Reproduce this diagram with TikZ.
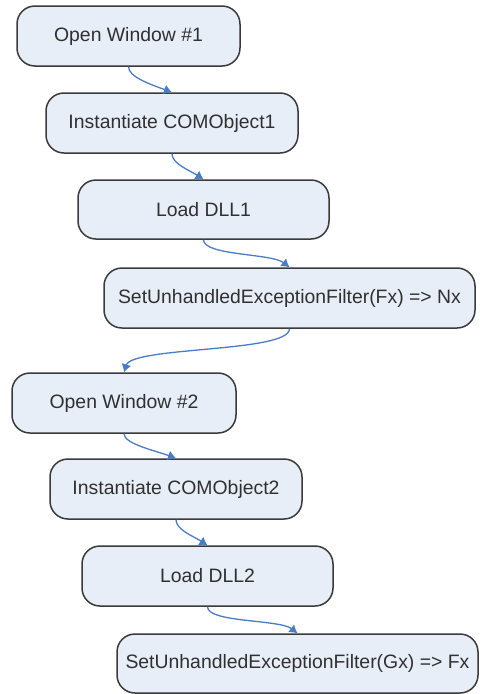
\documentclass[tikz,border=0pt]{standalone}
\usepackage{fontspec}
\setmainfont{Liberation Sans}
\usetikzlibrary{arrows.meta}
\definecolor{boxfill}{HTML}{E8EEF8}
\definecolor{boxline}{HTML}{3A3A3A}
\definecolor{txt}{HTML}{303030}
\definecolor{arr}{HTML}{4A7CC4}
\begin{document}
\begin{tikzpicture}[x=1pt,y=-1pt,
  flowbox/.style={draw=boxline, line width=1.5pt, fill=boxfill, rounded corners=18pt,
    minimum height=60pt, inner sep=0pt, text=txt,
    font=\fontsize{19.4}{23}\selectfont},
  flowarrow/.style={draw=arr, line width=1.3pt, -{Latex[length=8pt,width=10pt]}}]
\useasboundingbox (0,0) rectangle (480,694);
\node[flowbox, minimum width=223pt] (b1) at (128.5,36) {Open Window \#1};
\node[flowbox, minimum width=252pt] (b2) at (172,123) {Instantiate COMObject1};
\node[flowbox, minimum width=251pt, minimum height=59pt] (b3) at (203.5,209.5) {Load DLL1};
\node[flowbox, minimum width=371pt] (b4) at (289.5,298) {SetUnhandledExceptionFilter(Fx) => Nx};
\node[flowbox, minimum width=224pt] (b5) at (124,403) {Open Window \#2};
\node[flowbox, minimum width=252pt] (b6) at (176,489) {Instantiate COMObject2};
\node[flowbox, minimum width=251pt] (b7) at (207.5,576) {Load DLL2};
\node[flowbox, minimum width=361pt, minimum height=59pt] (b8) at (297.5,663.5) {SetUnhandledExceptionFilter(Gx) => Fx};
\draw[flowarrow] (b1.south) .. controls +(0,10) and +(-22,-8) .. (b2.north);
\draw[flowarrow] (b2.south) .. controls +(0,10) and +(-14,-9) .. (b3.north);
\draw[flowarrow] (b3.south) .. controls +(0,16) and +(-18,-14) .. (b4.north);
\draw[flowarrow] (b4.south) .. controls +(0,24) and +(8,-26) .. (b5.north);
\draw[flowarrow] (b5.south) .. controls +(0,10) and +(-22,-8) .. (b6.north);
\draw[flowarrow] (b6.south) .. controls +(0,10) and +(-14,-9) .. (b7.north);
\draw[flowarrow] (b7.south) .. controls +(0,16) and +(-18,-14) .. (b8.north);
\end{tikzpicture}
\end{document}
